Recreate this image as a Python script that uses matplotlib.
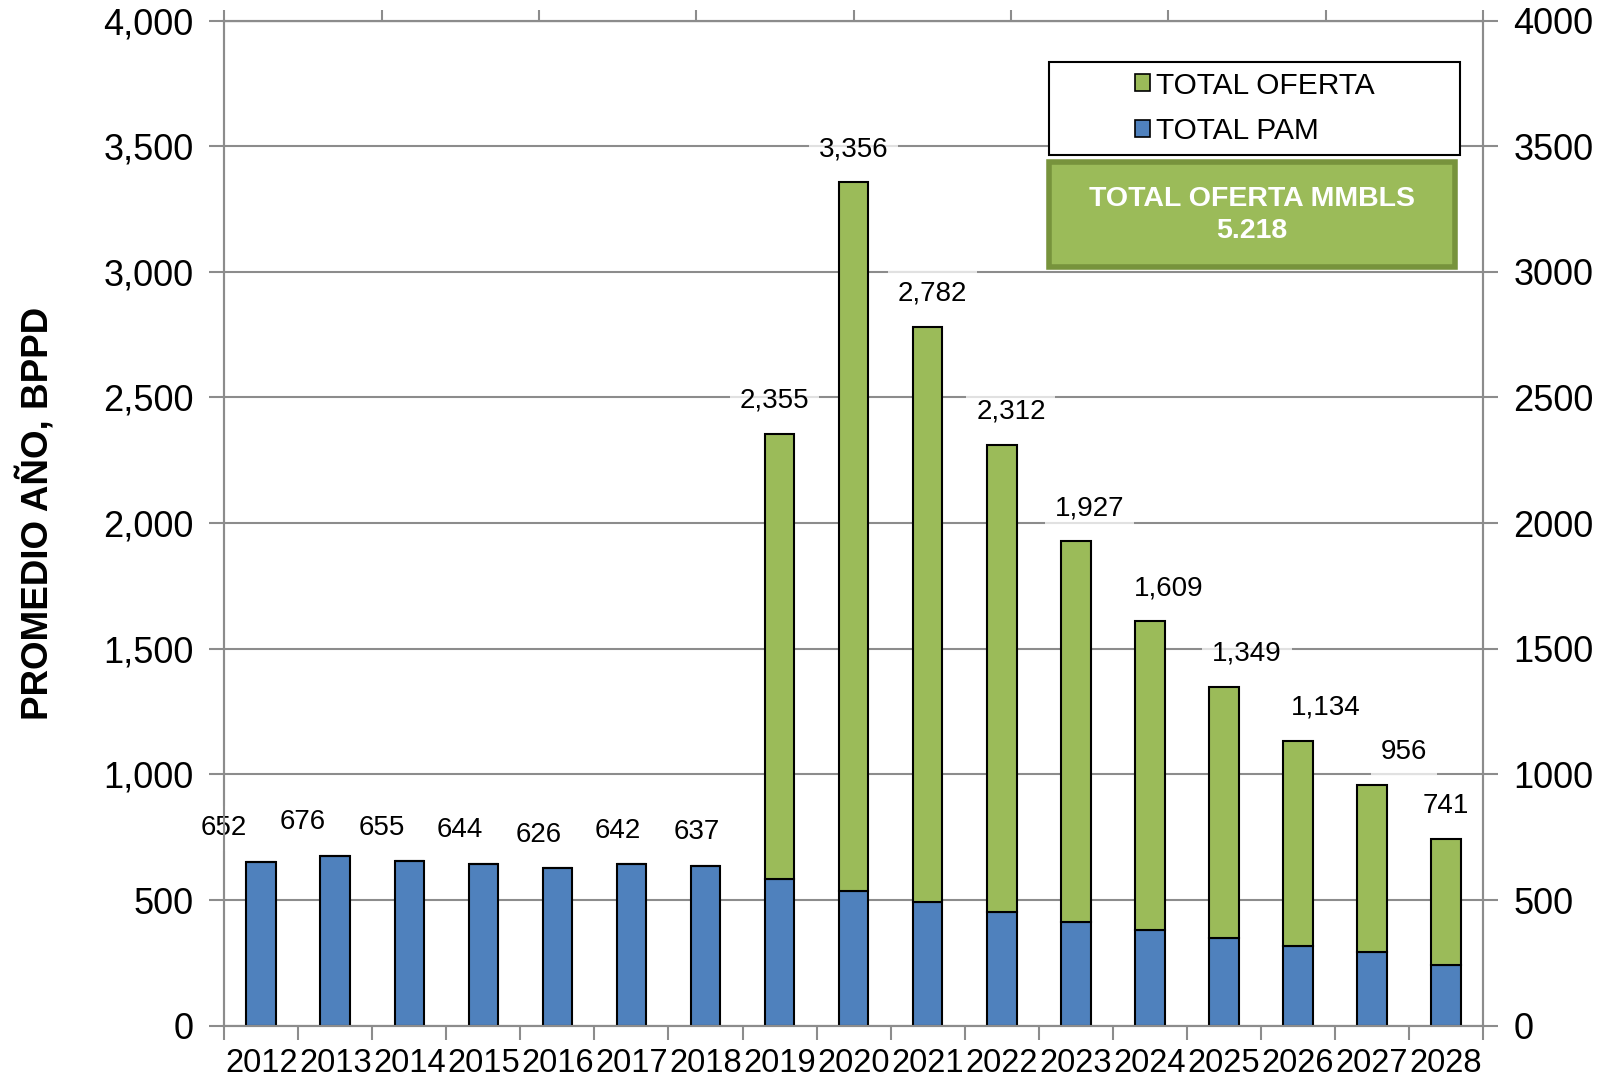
import numpy as np
import matplotlib
matplotlib.use("Agg")
import matplotlib.pyplot as plt
from matplotlib.patches import Patch, Rectangle
from matplotlib.ticker import FuncFormatter, MultipleLocator

plt.rcParams['font.family'] = ['Liberation Sans', 'DejaVu Sans']

years = [str(y) for y in range(2012, 2029)]
total_oferta = [652, 676, 655, 644, 626, 642, 637, 2355, 3356, 2782, 2312,
                1927, 1609, 1349, 1134, 956, 741]
total_pam = [652, 676, 655, 644, 626, 642, 637, 584, 536, 492, 451,
             413, 379, 348, 318, 292, 242]

BLUE = '#4F81BD'
GREEN = '#9BBB59'
GRID = '#8C8C8C'

fig = plt.figure(figsize=(16.13, 10.81), dpi=100)
ax = fig.add_axes([0.139, 0.0512, 0.9194 - 0.139, 0.981 - 0.0512])

x = np.arange(len(years))
extra = np.array(total_oferta) - np.array(total_pam)
ax.bar(x, total_pam, width=0.4, color=BLUE, edgecolor='black', linewidth=1.5, zorder=3)
ax.bar(x, extra, width=0.4, bottom=total_pam, color=GREEN, edgecolor='black',
       linewidth=1.5, zorder=3)

ax.set_xlim(-0.5, len(years) - 0.5)
ax.set_ylim(0, 4000)
ax.yaxis.set_major_locator(MultipleLocator(500))
ax.yaxis.set_major_formatter(FuncFormatter(lambda v, p: f'{int(v):,}'))
ax.grid(axis='y', color=GRID, linewidth=1.5, zorder=0)
ax.set_axisbelow(True)

ax.set_xticks(x)
ax.set_xticklabels(years)
ax.set_xticks(np.arange(-0.5, len(years)), minor=True)
ax.tick_params(axis='x', which='major', length=0, labelsize=23.5, pad=16)
ax.tick_params(axis='x', which='minor', length=10, width=1.5, color=GRID, direction='out')
ax.tick_params(axis='y', length=11, width=1.5, color=GRID, labelsize=26, pad=11)
for s in ax.spines.values():
    s.set_color(GRID)
    s.set_linewidth(1.5)

# secondary axis, same scale, plain numbers
ax2 = ax.twinx()
ax2.set_ylim(0, 4000)
ax2.yaxis.set_major_locator(MultipleLocator(500))
ax2.tick_params(axis='y', length=11, width=1.5, color=GRID, labelsize=26, pad=11)
for s in ax2.spines.values():
    s.set_color(GRID)
    s.set_linewidth(1.5)

# top tick marks (secondary category axis)
sec_x = np.linspace(-0.5, len(years) - 0.5, len(years))
ax3 = ax.secondary_xaxis('top')
ax3.set_xticks(sec_x[::2])
ax3.tick_params(axis='x', length=8, width=1.5, color=GRID, labelsize=0, labeltop=False)
ax3.spines['top'].set_color(GRID)

# data labels
for i, v in enumerate(total_oferta):
    lx = min(sec_x[i], len(years) - 1)
    ax.annotate(f'{v:,}', (lx, v), xytext=(0, 24), textcoords='offset points',
                ha='center', va='center', fontsize=20, zorder=5,
                bbox=dict(boxstyle='square,pad=0.35', fc='white', ec='none', alpha=0.75))

ax.set_ylabel('PROMEDIO AÑO, BPPD', fontsize=26.5, fontweight='bold')
ax.yaxis.set_label_coords(-0.134, 0.51)

# legend box
W, H = 1613.0, 1081.0
fig.patches.append(Rectangle((1049 / W, 1 - 155 / H), 411 / W, 93 / H, transform=fig.transFigure,
                             fc='white', ec='black', lw=1.5, zorder=4))
handles = [Patch(facecolor=GREEN, edgecolor='black', linewidth=1.2),
           Patch(facecolor=BLUE, edgecolor='black', linewidth=1.2)]
fig.legend(handles, ['TOTAL OFERTA', 'TOTAL PAM'], loc='center',
           bbox_to_anchor=(1254.5 / W, 1 - 108.5 / H), frameon=False, fontsize=21.5,
           handlelength=0.5, handleheight=0.5, handletextpad=0.2, labelspacing=0.6)

# total box
fig.patches.append(Rectangle((1049 / W, 1 - 267 / H), 406 / W, 105 / H, transform=fig.transFigure,
                             fc=GREEN, ec='#77933C', lw=4, zorder=4))
fig.text(1252 / W, 1 - 215 / H, 'TOTAL OFERTA MMBLS\n5.218', ha='center', va='center',
         color='white', fontsize=20.5, fontweight='bold', linespacing=1.35, zorder=5)

fig.savefig('out.png', dpi=100)
